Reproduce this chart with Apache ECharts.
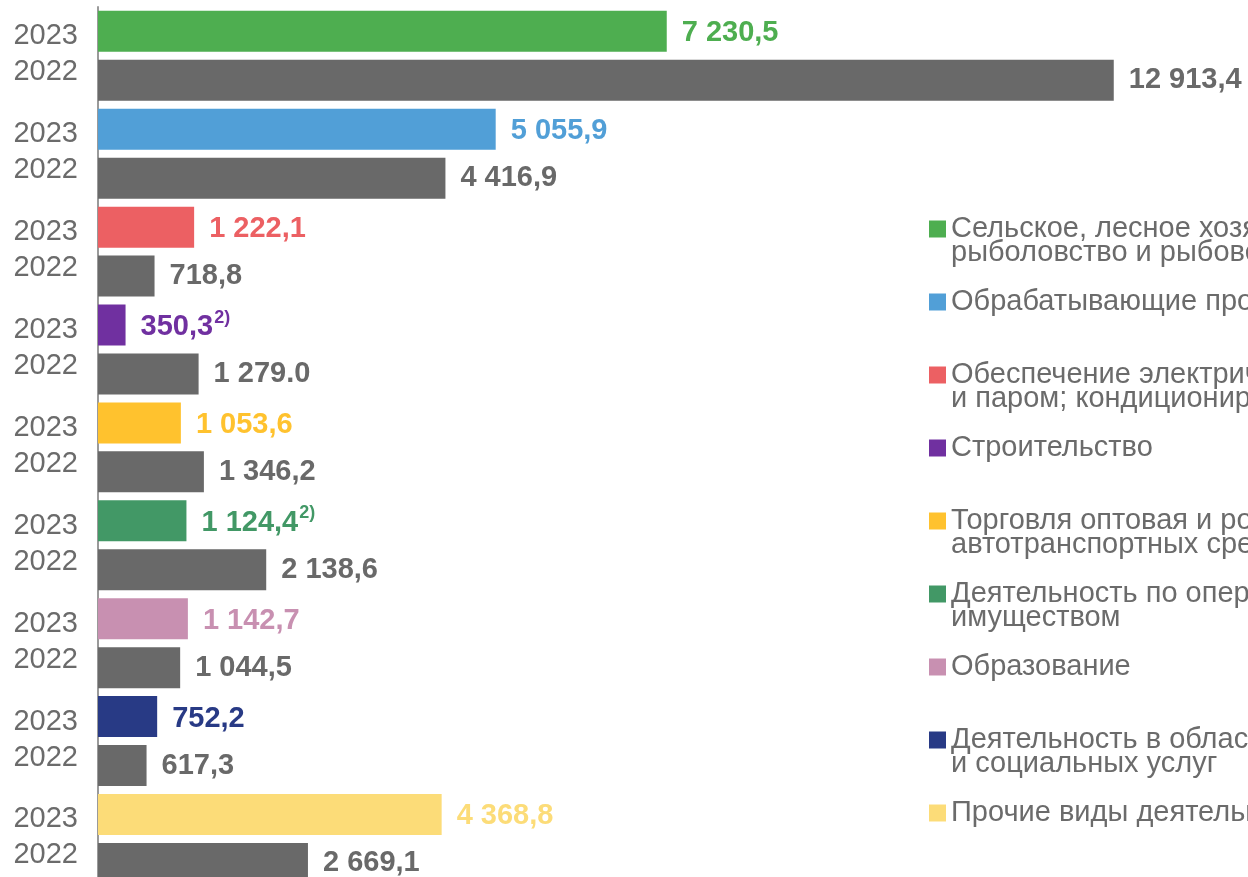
<!DOCTYPE html>
<html>
<head>
<meta charset="utf-8">
<script src="https://cdn.jsdelivr.net/npm/echarts@6/dist/echarts.min.js"></script>
<style>
html,body{margin:0;padding:0;background:#fff;}
#chart{width:1248px;height:877px;}
</style>
</head>
<body>
<div id="chart"></div>
<script>
// ---- Data ----
const categories = [
  'Сельское, лесное хозяйство, охота,\nрыболовство и рыбоводство',
  'Обрабатывающие производства',
  'Обеспечение электрической энергией, газом\nи паром; кондиционирование воздуха',
  'Строительство',
  'Торговля оптовая и розничная; ремонт\nавтотранспортных средств и мотоциклов',
  'Деятельность по операциям с недвижимым\nимуществом',
  'Образование',
  'Деятельность в области здравоохранения\nи социальных услуг',
  'Прочие виды деятельности'
];
const values2023 = [7230.5, 5055.9, 1222.1, 350.3, 1053.6, 1124.4, 1142.7, 752.2, 4368.8];
const values2022 = [12913.4, 4416.9, 718.8, 1279.0, 1346.2, 2138.6, 1044.5, 617.3, 2669.1];
const labels2023 = ['7 230,5', '5 055,9', '1 222,1', '350,3', '1 053,6', '1 124,4', '1 142,7', '752,2', '4 368,8'];
const notes2023  = ['', '', '', '2)', '', '2)', '', '', ''];
const labels2022 = ['12 913,4', '4 416,9', '718,8', '1 279.0', '1 346,2', '2 138,6', '1 044,5', '617,3', '2 669,1'];
const yearLabels = ['2023', '2022'];

// ---- Styles ----
const palette = ['#4EAE50', '#519FD7', '#EC6063', '#7030A0', '#FFC22E', '#429866', '#C890B1', '#283A85', '#FCDC78'];
const gray = '#696969';
const textGray = '#6B6B6B';
const FONT = '"Liberation Sans", Arial, sans-serif';

// ---- Build ----
const axisCats = [];
const barData = [];
categories.forEach((c, i) => {
  axisCats.push(yearLabels[0] + '#' + i);
  axisCats.push(yearLabels[1] + '#' + i);
  const col = palette[i];
  const t23 = '{v|' + labels2023[i] + '}' + (notes2023[i] ? '{s|' + notes2023[i] + '}' : '');
  barData.push({
    value: values2023[i],
    itemStyle: { color: col },
    label: {
      formatter: t23,
      rich: {
        v: { fontSize: 29, fontWeight: 'bold', color: col, fontFamily: FONT, padding: [4, 0, 0, 0] },
        s: { fontSize: 18, fontWeight: 'bold', color: col, fontFamily: FONT, verticalAlign: 'top', padding: [0, 0, 0, 1] }
      }
    }
  });
  barData.push({
    value: values2022[i],
    itemStyle: { color: gray },
    label: {
      formatter: '{v|' + labels2022[i] + '}',
      rich: { v: { fontSize: 29, fontWeight: 'bold', color: gray, fontFamily: FONT } }
    }
  });
});

const legendSeries = categories.map((c, i) => ({
  name: c,
  type: 'scatter',
  data: [],
  itemStyle: { color: palette[i], opacity: 1 }
}));

const chart = echarts.init(document.getElementById('chart'), null, { renderer: 'canvas' });
chart.setOption({
  backgroundColor: '#ffffff',
  animation: false,
  grid: { left: 98, right: 0, top: 6.9, bottom: -10.9, containLabel: false, outerBoundsMode: 'none' },
  xAxis: {
    type: 'value', min: 0, max: 14620,
    show: false, splitLine: { show: false }
  },
  yAxis: {
    type: 'category',
    inverse: true,
    data: axisCats,
    axisLine: { show: true, lineStyle: { color: '#9A9A9A', width: 2 } },
    axisTick: { show: false },
    axisLabel: {
      margin: 20,
      formatter: (v) => {
        const y = v.split('#')[0];
        return y === yearLabels[0] ? '{a|' + y + '}' : '{b|' + y + '}';
      },
      rich: {
        a: { fontSize: 29, color: textGray, fontFamily: FONT, padding: [10, 0, 0, 0] },
        b: { fontSize: 29, color: textGray, fontFamily: FONT, padding: [0, 0, 16, 0] }
      }
    }
  },
  legend: {
    orient: 'vertical',
    left: 929,
    top: 229 - 41,
    padding: 0,
    itemGap: -9,
    icon: 'rect',
    itemWidth: 17,
    itemHeight: 17,
    selectedMode: false,
    data: categories,
    formatter: (n) => (n.indexOf('\n') >= 0 ? '\n' + n : '\n' + n + '\n'),
    textStyle: { fontSize: 29, lineHeight: 24, color: textGray, fontFamily: FONT, padding: [10, 0, 0, 0] }
  },
  series: [
    {
      type: 'bar',
      barWidth: 41,
      data: barData,
      label: { show: true, position: 'right', distance: 15 }
    }
  ].concat(legendSeries)
});
</script>
</body>
</html>
